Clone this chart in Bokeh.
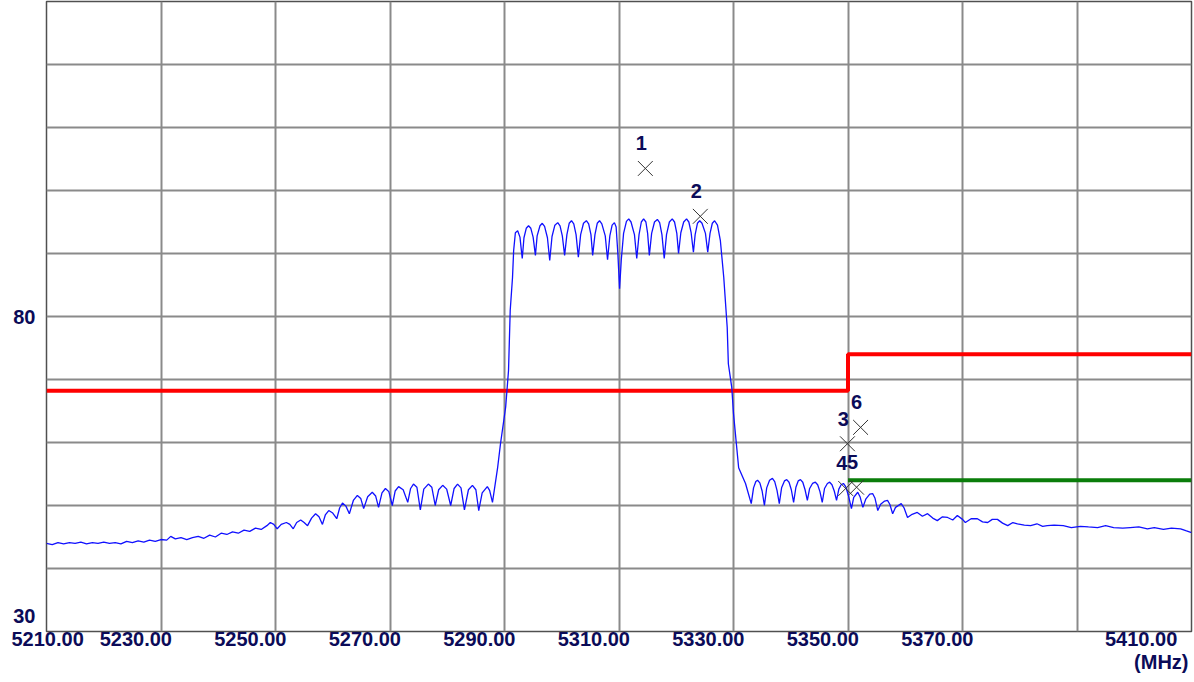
from bokeh.plotting import figure
from bokeh.models import Range1d, FixedTicker, Title, ColumnDataSource
from bokeh.core.properties import value
from bokeh.embed import file_html
from bokeh.resources import INLINE

# ---------------- data ----------------
trace_f = [
    5210.0, 5211.0, 5212.0, 5213.0, 5214.0, 5215.0, 5216.0, 5217.0, 5218.0, 5219.0,
    5220.0, 5221.0, 5222.0, 5223.0, 5224.0, 5225.0, 5226.0, 5227.0, 5228.0, 5229.0,
    5230.0, 5231.0, 5231.7, 5232.5, 5233.5, 5234.5, 5235.5, 5236.5, 5237.5, 5238.5,
    5239.5, 5240.5, 5241.5, 5242.5, 5243.5, 5244.5, 5245.5, 5246.5, 5247.5, 5248.5,
    5249.1, 5249.7, 5250.3, 5251.0, 5251.9, 5252.5, 5253.1, 5253.7, 5254.4, 5255.0,
    5255.6, 5256.3, 5257.0, 5257.6, 5258.2, 5258.7, 5259.3, 5260.0, 5260.7, 5261.2,
    5261.7, 5262.3, 5262.9, 5263.6, 5264.3, 5264.9, 5265.4, 5266.1, 5266.9, 5267.5,
    5268.0, 5268.6, 5269.2, 5269.8, 5270.4, 5270.9, 5271.5, 5272.3, 5273.1, 5273.6,
    5274.1, 5274.7, 5275.3, 5275.9, 5276.7, 5277.3, 5277.9, 5278.5, 5279.2, 5279.9,
    5280.6, 5281.2, 5281.8, 5282.4, 5283.0, 5283.7, 5284.4, 5285.0, 5285.5, 5286.1,
    5287.0, 5287.4, 5287.9, 5288.8, 5289.3, 5290.2, 5290.7, 5291.0, 5291.4, 5291.6,
    5291.9, 5292.3, 5292.7, 5293.1, 5293.4, 5293.8, 5294.2, 5294.6, 5295.0, 5295.4,
    5295.7, 5296.2, 5296.6, 5297.0, 5297.5, 5297.9, 5298.3, 5298.8, 5299.3, 5299.7,
    5300.1, 5300.5, 5300.9, 5301.3, 5301.7, 5302.1, 5302.5, 5302.9, 5303.3, 5303.8,
    5304.3, 5304.7, 5305.1, 5305.4, 5305.8, 5306.2, 5306.6, 5307.0, 5307.6, 5308.0,
    5308.4, 5308.8, 5309.2, 5309.5, 5309.8, 5310.1, 5310.4, 5310.8, 5311.3, 5311.7,
    5312.1, 5312.7, 5313.1, 5313.5, 5313.9, 5314.3, 5314.7, 5315.0, 5315.3, 5315.7,
    5316.2, 5316.7, 5317.1, 5317.5, 5317.9, 5318.3, 5318.8, 5319.3, 5319.7, 5320.1,
    5320.4, 5320.8, 5321.3, 5321.8, 5322.2, 5322.6, 5323.0, 5323.3, 5323.7, 5324.1,
    5324.5, 5325.1, 5325.5, 5325.9, 5326.3, 5326.7, 5327.2, 5327.7, 5328.3, 5328.9,
    5329.1, 5329.7, 5330.0, 5330.5, 5330.9, 5332.1, 5333.1, 5333.5, 5333.9, 5334.2,
    5334.6, 5335.0, 5335.4, 5335.8, 5336.3, 5336.8, 5337.2, 5337.6, 5338.0, 5338.4,
    5338.9, 5339.3, 5339.7, 5340.1, 5340.5, 5340.9, 5341.3, 5341.7, 5342.1, 5342.5,
    5342.9, 5343.3, 5343.8, 5344.3, 5344.7, 5345.1, 5345.5, 5345.9, 5346.4, 5346.8,
    5347.2, 5347.6, 5348.0, 5348.4, 5348.8, 5349.2, 5349.6, 5350.1, 5350.6, 5351.0,
    5351.7, 5352.1, 5352.6, 5353.1, 5353.8, 5354.3, 5354.7, 5355.2, 5355.7, 5356.4,
    5356.9, 5357.3, 5357.8, 5358.3, 5359.3, 5359.8, 5360.4, 5361.2, 5362.1, 5363.0,
    5363.9, 5364.8, 5365.6, 5366.5, 5367.4, 5368.3, 5369.1, 5370.0, 5370.5, 5371.5,
    5372.6, 5373.5, 5374.4, 5375.2, 5376.1, 5377.0, 5377.9, 5378.8, 5379.6, 5380.8,
    5381.9, 5383.0, 5384.0, 5384.8, 5386.0, 5387.6, 5389.0, 5390.6, 5392.0, 5393.6,
    5395.0, 5396.4, 5398.0, 5399.3, 5400.8, 5402.3, 5403.5, 5405.1, 5406.5, 5408.1,
    5409.0, 5410.0,
]
trace_v = [
    44.0, 43.8, 44.1, 43.9, 44.1, 44.0, 44.2, 43.9, 44.1, 44.0,
    44.2, 44.0, 44.1, 43.9, 44.3, 44.1, 44.4, 44.2, 44.5, 44.3,
    44.6, 44.5, 45.1, 44.7, 44.9, 44.6, 44.9, 45.1, 44.8, 45.3,
    45.0, 45.6, 45.4, 45.8, 45.6, 46.1, 45.9, 46.4, 46.2, 46.8,
    47.3, 47.0, 46.3, 47.0, 47.3, 47.0, 46.3, 47.3, 47.7, 47.3,
    46.8, 48.0, 48.7, 48.2, 47.0, 48.5, 49.2, 48.8, 47.9, 49.6,
    50.4, 49.9, 48.7, 50.8, 51.6, 51.1, 49.5, 51.4, 52.1, 51.5,
    49.7, 52.0, 52.7, 52.2, 50.0, 52.3, 53.0, 52.5, 50.5, 52.7,
    53.4, 52.9, 49.3, 52.6, 53.4, 52.9, 50.0, 52.5, 53.2, 52.6,
    50.0, 52.7, 53.4, 52.8, 49.3, 52.5, 53.2, 52.5, 49.2, 52.0,
    53.0, 52.4, 50.5, 56.0, 59.8, 65.6, 71.4, 81.0, 86.2, 90.5,
    93.3, 93.6, 92.6, 89.2, 92.5, 94.0, 94.4, 94.0, 92.6, 89.7,
    92.8, 94.4, 94.8, 94.3, 92.5, 88.9, 92.7, 94.5, 94.9, 94.4,
    92.8, 89.7, 93.0, 94.8, 95.2, 94.7, 93.0, 89.4, 93.0, 94.8,
    95.2, 94.7, 93.0, 89.7, 93.0, 94.8, 95.2, 94.7, 92.8, 89.0,
    92.8, 94.5, 94.9, 94.2, 90.0, 84.4, 89.0, 93.2, 95.1, 95.5,
    95.0, 93.0, 89.2, 93.0, 95.0, 95.5, 95.0, 93.2, 89.7, 93.2,
    95.0, 95.4, 94.9, 93.0, 89.2, 93.0, 95.0, 95.5, 95.0, 93.2,
    90.0, 93.3, 95.0, 95.5, 95.0, 93.3, 90.2, 93.0, 94.8, 95.2,
    94.8, 93.2, 90.2, 93.2, 94.8, 95.2, 94.5, 92.1, 86.2, 78.3,
    72.5, 68.7, 64.6, 59.8, 56.0, 53.5, 50.3, 52.8, 53.8, 54.0,
    53.6, 52.3, 50.0, 52.8, 54.0, 54.3, 53.8, 52.4, 50.3, 52.8,
    53.9, 54.1, 53.7, 52.5, 50.5, 52.9, 53.9, 54.1, 53.7, 52.5,
    50.8, 52.7, 53.5, 53.7, 53.3, 52.2, 50.5, 52.7, 53.5, 53.7,
    53.3, 52.3, 50.8, 52.6, 53.3, 53.5, 53.0, 51.5, 49.5, 51.3,
    52.1, 51.4, 49.7, 51.0, 51.8, 51.9, 51.2, 49.2, 50.2, 50.7,
    50.8, 50.2, 48.7, 49.7, 50.3, 49.6, 48.1, 48.6, 48.9, 48.3,
    48.7, 48.0, 47.6, 48.2, 48.1, 47.7, 48.4, 47.8, 47.3, 47.9,
    47.9, 47.4, 47.3, 47.8, 47.8, 47.2, 46.8, 47.3, 47.1, 46.9,
    46.8, 47.1, 46.7, 46.8, 46.9, 46.8, 46.5, 46.7, 46.6, 46.5,
    46.8, 46.5, 46.4, 46.5, 46.6, 46.3, 46.5, 46.2, 46.4, 46.3,
    46.0, 45.7,
]

# limit lines (dBuV/m)
limit_red_f = [5210.0, 5350.0, 5410.0]
limit_red_v = [68.2, 74.0, 74.0]
limit_green_f = [5350.0, 5410.0]
limit_green_v = [54.0, 54.0]

# markers
marker_f = [5314.6, 5324.2, 5349.9, 5349.6, 5351.5, 5352.2]
marker_v = [103.5, 95.9, 59.8, 52.7, 52.9, 62.4]
marker_lbl = ["1", "2", "3", "4", "5", "6"]

# axes / ticks
grid_f = [5210, 5230, 5250, 5270, 5290, 5310, 5330, 5350, 5370, 5390, 5410]
grid_v = [30, 40, 50, 60, 70, 80, 90, 100, 110, 120, 130]
xlabel_vals = [5210, 5230, 5250, 5270, 5290, 5310, 5330, 5350, 5370, 5410]
xlabel_txt = ["5210.00", "5230.00", "5250.00", "5270.00", "5290.00",
              "5310.00", "5330.00", "5350.00", "5370.00", "5410.00"]
ylabel_vals = [80, 30]
ylabel_txt = ["80", "30"]

# ---------------- style ----------------
NAVY = "#0b0b58"
FONT = "Liberation Sans"
LABEL_SHIFT = 4.4     # tick labels sit left of their grid line (MHz)
EDGE_SHIFT_L = 0.2
EDGE_SHIFT_R = 8.8
Y_EDGE_SHIFT = 2.5

p = figure(width=1194, height=682, output_backend="svg", toolbar_location=None,
           x_range=Range1d(5210, 5410), y_range=Range1d(30, 130),
           min_border_left=46, min_border_right=3, min_border_top=1, min_border_bottom=51,
           background_fill_color="white", border_fill_color="white")

p.outline_line_color = "#505050"
p.outline_line_width = 1.5

# grid
p.xgrid.ticker = FixedTicker(ticks=grid_f)
p.ygrid.ticker = FixedTicker(ticks=grid_v)
for g in (p.xgrid, p.ygrid):
    g.grid_line_color = "#8a8a8a"
    g.grid_line_width = 2

# x axis labels (shifted left of their grid line)
xpos = []
for v in xlabel_vals:
    if v == xlabel_vals[0]:
        xpos.append(v + EDGE_SHIFT_L)
    elif v == xlabel_vals[-1]:
        xpos.append(v - EDGE_SHIFT_R)
    else:
        xpos.append(v - LABEL_SHIFT)
xa = p.xaxis[0]
xa.ticker = FixedTicker(ticks=xpos)
xa.major_label_overrides = {pos: t for pos, t in zip(xpos, xlabel_txt)}
xa.axis_line_color = None
xa.major_tick_line_color = None
xa.minor_tick_line_color = None
xa.major_tick_out = 0
xa.major_tick_in = 0
xa.major_label_standoff = 0
xa.major_label_text_font = FONT
xa.major_label_text_font_style = "bold"
xa.major_label_text_font_size = "20px"
xa.major_label_text_color = NAVY

ypos = [v if v != ylabel_vals[-1] else v + Y_EDGE_SHIFT for v in ylabel_vals]
ya = p.yaxis[0]
ya.ticker = FixedTicker(ticks=ypos)
ya.major_label_overrides = {pos: t for pos, t in zip(ypos, ylabel_txt)}
ya.axis_line_color = None
ya.major_tick_line_color = None
ya.minor_tick_line_color = None
ya.major_tick_out = 0
ya.major_tick_in = 0
ya.major_label_standoff = 11
ya.major_label_text_font = FONT
ya.major_label_text_font_style = "bold"
ya.major_label_text_font_size = "20px"
ya.major_label_text_color = NAVY

unit = Title(text="(MHz)", align="right", text_font=FONT, text_font_style="bold",
             text_font_size="20px", text_color=NAVY, standoff=0, offset=3)
p.add_layout(unit, "below")

# limit lines
p.step(limit_red_f, limit_red_v, mode="after", line_color="#ff0000", line_width=4)
p.line(limit_green_f, limit_green_v, line_color="#0a7d0a", line_width=4)

# trace
p.line(trace_f, trace_v, line_color="#1010ff", line_width=1.3)

# markers
src = ColumnDataSource(dict(f=marker_f, v=marker_v, t=marker_lbl))
p.scatter("f", "v", source=src, marker="x", size=21, line_color="#333333", line_width=1)
p.text("f", "v", text="t", source=src, x_offset=-4, y_offset=-25,
       text_align="center", text_baseline="alphabetic",
       text_font=value(FONT), text_font_style="bold", text_font_size="20px",
       text_color=NAVY)

open("out.html", "w").write(file_html(p, INLINE))
